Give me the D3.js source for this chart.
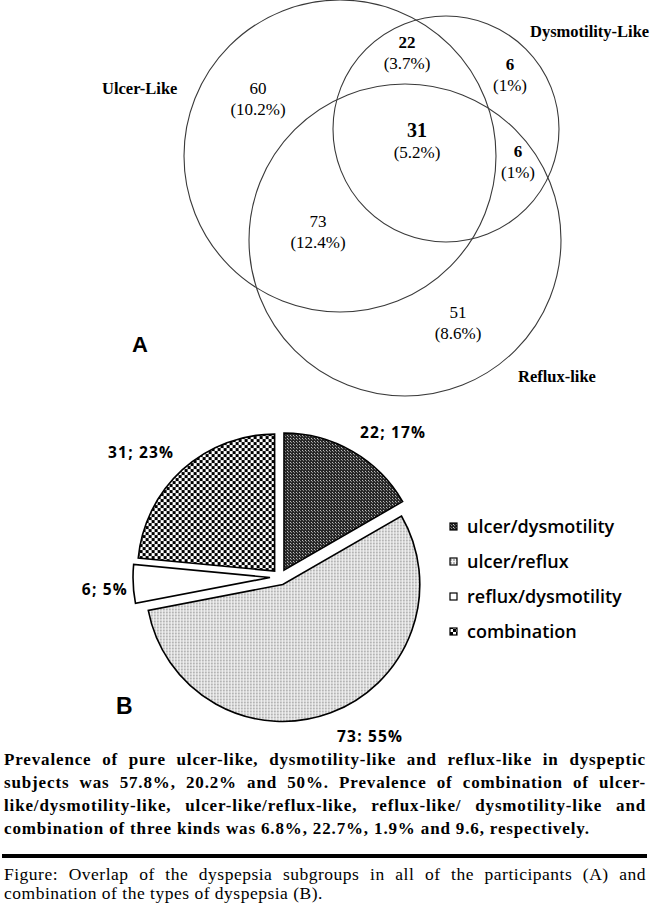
<!DOCTYPE html>
<head>
  <meta charset="utf-8">
  <script src="https://d3js.org/d3.v7.min.js"></script>
  <style>
    body { margin: 0; background: #fff; }
  </style>
</head>

<body>
  <div id="figure"></div>
</body>

<script>

// ---- data, panel A (Venn of dyspepsia subgroups)
var vennSets = ["Ulcer-Like", "Dysmotility-Like", "Reflux-like"];
var vennRegions = ["ulcer", "ulcer/dysmotility", "dysmotility", "all", "reflux/dysmotility", "ulcer/reflux", "reflux"];
var vennCounts = [60, 22, 6, 31, 6, 73, 51];
var vennPercents = ["(10.2%)", "(3.7%)", "(1%)", "(5.2%)", "(1%)", "(12.4%)", "(8.6%)"];

// ---- data, panel B (pie of combinations)
var pieCategories = ["ulcer/dysmotility", "ulcer/reflux", "reflux/dysmotility", "combination"];
var pieValues = [22, 73, 6, 31];
var pieLabels = ["22; 17%", "73: 55%", "6; 5%", "31; 23%"];

// ---- texts
var bodyLines = [
  "Prevalence of pure ulcer-like, dysmotility-like and reflux-like in dyspeptic",
  "subjects was 57.8%, 20.2% and 50%. Prevalence of combination of ulcer-",
  "like/dysmotility-like, ulcer-like/reflux-like, reflux-like/ dysmotility-like and",
  "combination of three kinds was 6.8%, 22.7%, 1.9% and 9.6, respectively."
];
var captionLines = [
  "Figure: Overlap of the dyspepsia subgroups in all of the participants (A) and",
  "combination of the types of dyspepsia (B)."
];

var width = 650, height = 915;
var serif = "'Liberation Serif', 'Times New Roman', serif";
var sans = "'Liberation Sans', Arial, sans-serif";
var ui = "'Open Sans', sans-serif";

var svg = d3.select("#figure")
  .append("svg")
    .attr("width", width)
    .attr("height", height);

var defs = svg.append("defs");

// fill patterns for the pie
var pDark = defs.append("pattern").attr("id", "pat-dark")
  .attr("patternUnits", "userSpaceOnUse").attr("width", 3).attr("height", 3);
pDark.append("rect").attr("width", 3).attr("height", 3).attr("fill", "#262626");
pDark.append("rect").attr("x", 0).attr("y", 0).attr("width", 1).attr("height", 1).attr("fill", "#c8c8c8");
pDark.append("rect").attr("x", 1).attr("y", 1).attr("width", 1).attr("height", 1).attr("fill", "#8a8a8a");

var pLight = defs.append("pattern").attr("id", "pat-light")
  .attr("patternUnits", "userSpaceOnUse").attr("width", 3).attr("height", 3);
pLight.append("rect").attr("width", 3).attr("height", 3).attr("fill", "#f4f4f4");
pLight.append("rect").attr("width", 2).attr("height", 2).attr("fill", "#b4b4b4");

var pCheck = defs.append("pattern").attr("id", "pat-check")
  .attr("patternUnits", "userSpaceOnUse").attr("width", 6).attr("height", 6);
pCheck.append("rect").attr("width", 6).attr("height", 6).attr("fill", "#fff");
pCheck.append("rect").attr("width", 3).attr("height", 3).attr("fill", "#000");
pCheck.append("rect").attr("x", 3).attr("y", 3).attr("width", 3).attr("height", 3).attr("fill", "#000");

var fills = ["url(#pat-dark)", "url(#pat-light)", "#fff", "url(#pat-check)"];

// ================= panel A =================
var venn = svg.append("g");

// circle layout: ulcer, dysmotility, reflux
var circles = [
  {cx: 340, cy: 156, r: 156},
  {cx: 446, cy: 129, r: 113},
  {cx: 405, cy: 240, r: 156}
];

venn.selectAll("circle")
  .data(circles)
  .enter()
  .append("circle")
    .attr("cx", function(d) { return d.cx; })
    .attr("cy", function(d) { return d.cy; })
    .attr("r", function(d) { return d.r; })
    .style("fill", "none")
    .style("stroke", "#3a3a3a")
    .style("stroke-width", 1.1);

// set names
var setPos = [{x: 102, y: 94}, {x: 530, y: 37}, {x: 518, y: 382}];
venn.selectAll(".setname")
  .data(vennSets)
  .enter()
  .append("text")
    .attr("x", function(d, i) { return setPos[i].x; })
    .attr("y", function(d, i) { return setPos[i].y; })
    .style("font-family", serif)
    .style("font-weight", "bold")
    .style("font-size", "16.5px")
    .text(function(d) { return d; });

// region counts
var regionPos = [
  {x: 258, y: 94, bold: false, size: 17},
  {x: 407, y: 48, bold: true, size: 17},
  {x: 510, y: 70, bold: true, size: 17},
  {x: 417, y: 137, bold: true, size: 20},
  {x: 518, y: 157, bold: true, size: 17},
  {x: 318, y: 227, bold: false, size: 17},
  {x: 458, y: 318, bold: false, size: 17}
];

var regions = venn.selectAll(".region")
  .data(vennRegions)
  .enter()
  .append("g");

regions.append("text")
  .attr("x", function(d, i) { return regionPos[i].x; })
  .attr("y", function(d, i) { return regionPos[i].y; })
  .attr("text-anchor", "middle")
  .style("font-family", serif)
  .style("font-weight", function(d, i) { return regionPos[i].bold ? "bold" : "normal"; })
  .style("font-size", function(d, i) { return regionPos[i].size + "px"; })
  .text(function(d, i) { return vennCounts[i]; });

regions.append("text")
  .attr("x", function(d, i) { return regionPos[i].x; })
  .attr("y", function(d, i) { return regionPos[i].y + 21; })
  .attr("text-anchor", "middle")
  .style("font-family", serif)
  .style("font-size", "17px")
  .text(function(d, i) { return vennPercents[i]; });

svg.append("text")
  .attr("x", 132).attr("y", 352)
  .style("font-family", sans).style("font-weight", "bold").style("font-size", "22px")
  .text("A");

// ================= panel B =================
var pieCx = 280, pieCy = 577, radius = 137;
var explode = [8, 8, 10, 8];

var pie = d3.pie().sort(null).value(function(d) { return d; });
var arc = d3.arc().innerRadius(0).outerRadius(radius);
var arcs = pie(pieValues);

var pieG = svg.append("g")
  .attr("transform", "translate(" + pieCx + "," + pieCy + ")");

pieG.selectAll("path")
  .data(arcs)
  .enter()
  .append("path")
    .attr("transform", function(d, i) {
      var a = (d.startAngle + d.endAngle) / 2;
      return "translate(" + (explode[i] * Math.sin(a)) + "," + (-explode[i] * Math.cos(a)) + ")";
    })
    .attr("d", arc)
    .style("fill", function(d, i) { return fills[i]; })
    .style("stroke", "#000")
    .style("stroke-width", 1.6)
    .style("stroke-linejoin", "miter");

// slice labels
var labelPos = [
  {x: 360, y: 438, a: "start"},
  {x: 337, y: 742, a: "start"},
  {x: 128, y: 595, a: "end"},
  {x: 108, y: 458, a: "start"}
];
svg.selectAll(".plabel")
  .data(pieLabels)
  .enter()
  .append("text")
    .attr("x", function(d, i) { return labelPos[i].x; })
    .attr("y", function(d, i) { return labelPos[i].y; })
    .attr("text-anchor", function(d, i) { return labelPos[i].a; })
    .style("font-family", ui)
    .style("font-weight", "bold")
    .style("font-size", "15.5px")
    .style("letter-spacing", "1.2px")
    .text(function(d) { return d; });

// legend
var legend = svg.append("g").attr("transform", "translate(450,533)");
var rows = legend.selectAll("g")
  .data(pieCategories)
  .enter()
  .append("g")
    .attr("transform", function(d, i) { return "translate(0," + (i * 35) + ")"; });

rows.append("rect")
  .attr("x", 0).attr("y", -10)
  .attr("width", 7).attr("height", 7)
  .style("fill", function(d, i) { return fills[i]; })
  .style("stroke", "#000")
  .style("stroke-width", 1.2);

rows.append("text")
  .attr("x", 17).attr("y", 0)
  .style("font-family", ui)
  .style("font-weight", 600)
  .style("font-size", "18px")
  .text(function(d) { return d; });

svg.append("text")
  .attr("x", 116).attr("y", 714)
  .style("font-family", sans).style("font-weight", "bold").style("font-size", "23px")
  .text("B");

// ================= text block =================
function justified(lines, opts) {
  var g = svg.append("g")
    .style("font-family", serif)
    .style("font-size", opts.size + "px")
    .style("font-weight", opts.weight)
    .style("letter-spacing", opts.ls + "px");
  lines.forEach(function(line, li) {
    var y = opts.y0 + li * opts.lh;
    if (li === lines.length - 1) {
      g.append("text").attr("x", opts.x0).attr("y", y).text(line);
      return;
    }
    var words = line.split(" ");
    var nodes = words.map(function(w) {
      return g.append("text").attr("y", y).text(w);
    });
    var widths = nodes.map(function(n) { return n.node().getComputedTextLength(); });
    var gap = (opts.x1 - opts.x0 - d3.sum(widths)) / (words.length - 1);
    var x = opts.x0;
    nodes.forEach(function(n, k) {
      n.attr("x", x);
      x += widths[k] + gap;
    });
  });
}

justified(bodyLines, {x0: 4, x1: 646, y0: 765, lh: 23, size: 17, weight: "bold", ls: 0.85});

svg.append("rect")
  .attr("x", 2).attr("y", 854)
  .attr("width", 645).attr("height", 4)
  .style("fill", "#000");

justified(captionLines, {x0: 4, x1: 646, y0: 880, lh: 18.5, size: 17.5, weight: "normal", ls: 0.5});

</script>
